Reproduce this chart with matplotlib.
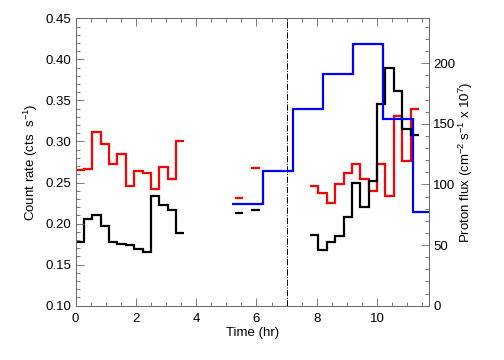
import numpy as np
import matplotlib
matplotlib.use('Agg')
import matplotlib.pyplot as plt
from matplotlib.ticker import MultipleLocator

plt.rcParams['font.family'] = ['Liberation Sans', 'DejaVu Sans']
plt.rcParams['mathtext.default'] = 'regular'
plt.rcParams['font.size'] = 9.5

# count-rate bins are 1000 s wide
bin_hr = 1000.0 / 3600.0

# (first bin index, values) for each run of consecutive bins
red_runs = [
    (0, [0.265, 0.267, 0.311, 0.297, 0.273, 0.285, 0.246, 0.264, 0.261, 0.242, 0.269, 0.254, 0.300]),
    (19, [0.231]),
    (21, [0.268]),
    (28, [0.246, 0.237, 0.225, 0.248, 0.261, 0.273, 0.254, 0.240, 0.273, 0.234, 0.331, 0.276, 0.340]),
]
black_runs = [
    (0, [0.178, 0.206, 0.210, 0.197, 0.178, 0.175, 0.174, 0.169, 0.165, 0.234, 0.223, 0.217, 0.189]),
    (19, [0.213]),
    (21, [0.216]),
    (28, [0.186, 0.168, 0.177, 0.185, 0.208, 0.250, 0.220, 0.252, 0.346, 0.390, 0.362, 0.315, 0.308]),
]

# proton flux, hourly bins
flux_edges = [5.2, 6.2, 7.2, 8.2, 9.2, 10.2, 11.2, 12.2]
flux_values = [84, 111, 162, 191, 216, 154, 77]

event_time = 7.0

fig = plt.figure(figsize=(5.04, 3.6), dpi=100)
ax = fig.add_axes([0.150, 0.151, 0.701, 0.798])

for color, runs in [('red', red_runs), ('black', black_runs)]:
    for start, vals in runs:
        edges = (start + np.arange(len(vals) + 1)) * bin_hr
        ax.stairs(vals, edges, color=color, lw=1.6, baseline=None)

ax.axvline(event_time, color='black', lw=0.7, ls='-.')

ax.set_xlim(0, 11.72)
ax.set_ylim(0.10, 0.45)
ax.xaxis.set_major_locator(MultipleLocator(2))
ax.xaxis.set_minor_locator(MultipleLocator(0.5))
ax.yaxis.set_major_locator(MultipleLocator(0.05))
ax.yaxis.set_minor_locator(MultipleLocator(0.01))
ax.yaxis.set_major_formatter(matplotlib.ticker.FormatStrFormatter('%.2f'))
ax.tick_params(which='both', direction='in', top=True, right=False, color='#666666')
ax.tick_params(which='major', length=6, width=0.6)
ax.tick_params(which='minor', length=3, width=0.6)
ax.tick_params(axis='x', pad=5)
ax.tick_params(axis='y', pad=3)
ax.set_xlabel('Time (hr)', labelpad=2)
ax.set_ylabel(r'Count rate (cts  s$^{-1}$)', labelpad=4)
for s in ax.spines.values():
    s.set_linewidth(0.6)
    s.set_color('#666666')

ax2 = ax.twinx()
ax2.stairs(flux_values, flux_edges, color='blue', lw=1.6, baseline=None)
ax2.set_ylim(0, 237)
ax2.yaxis.set_major_locator(MultipleLocator(50))
ax2.yaxis.set_minor_locator(MultipleLocator(10))
ax2.tick_params(which='both', direction='in', color='#666666', pad=3)
ax2.tick_params(which='major', length=6, width=0.6)
ax2.tick_params(which='minor', length=3, width=0.6)
ax2.set_ylabel(r'Proton flux (cm$^{-2}$ s$^{-1}$ x 10$^{7}$)', labelpad=1)
for s in ax2.spines.values():
    s.set_linewidth(0.6)
    s.set_color('#666666')

fig.savefig('out.png', dpi=100)
